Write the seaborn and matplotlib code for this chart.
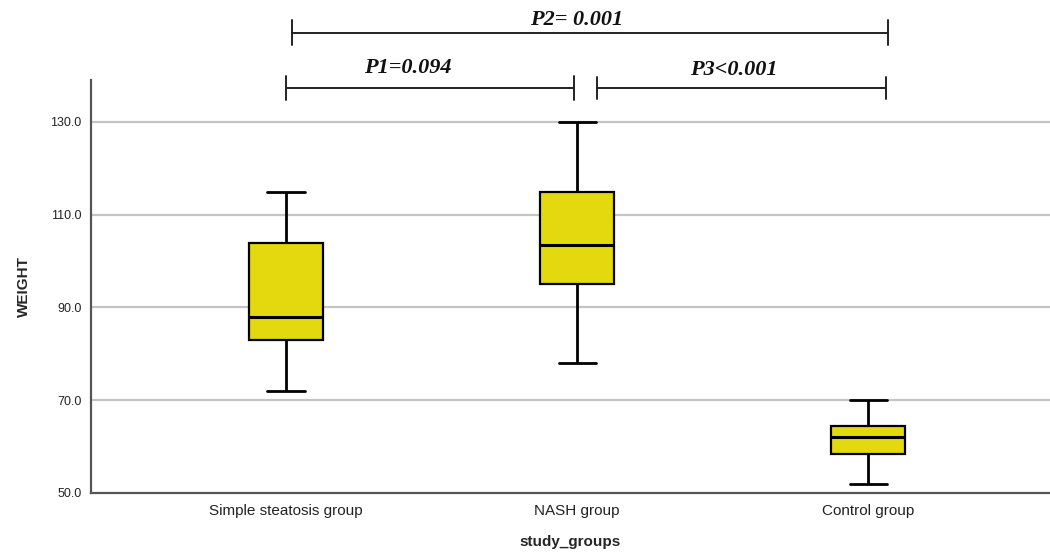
import numpy as np
import pandas as pd
import matplotlib
matplotlib.use('Agg')
import matplotlib.pyplot as plt
import seaborn as sns

# five-number summaries (min, Q1, median, Q3, max)
groups = ['Simple steatosis group', 'NASH group', 'Control group']
simple_weight = [72, 83, 88, 104, 115]
nash_weight = [78, 95, 103.5, 115, 130]
control_weight = [52, 58.5, 62, 64.5, 70]
y_ticks = [50, 70, 90, 110, 130]

# pairwise comparisons: (left group, right group, label)
comparisons = [
    (0, 1, 'P1=0.094'),
    (0, 2, 'P2= 0.001'),
    (1, 2, 'P3<0.001'),
]

df = pd.DataFrame({
    'study_groups': np.repeat(groups, 5),
    'WEIGHT': simple_weight + nash_weight + control_weight,
})

sns.set_style('white')
plt.rcParams['font.family'] = ['Liberation Sans', 'DejaVu Sans']

fig = plt.figure(figsize=(10.5, 5.53), dpi=100)
ax = fig.add_axes([0.0867, 0.1085, 0.9133, 0.7465])

for y in y_ticks[1:]:
    ax.axhline(y, color='#c4c4c4', lw=1.6, zorder=0)

sns.boxplot(data=df, x='study_groups', y='WEIGHT', order=groups, whis=(0, 100),
            width=0.255, color='#e4d80f', saturation=1, linewidth=1.6,
            linecolor='black', medianprops={'linewidth': 2.2},
            capprops={'linewidth': 2}, whiskerprops={'linewidth': 2},
            ax=ax)

ax.set_xlim(-0.67, 2.625)
ax.set_ylim(50, 139)
ax.set_yticks(y_ticks)
ax.set_yticklabels([f'{v:.1f}' for v in y_ticks], fontsize=9, color='#222222')
ax.tick_params(axis='x', labelsize=11, length=0, pad=8, colors='#222222')
ax.tick_params(axis='y', length=0, pad=7)
ax.set_xlabel('study_groups', fontsize=11, fontweight='bold', labelpad=12)
ax.set_ylabel('WEIGHT', fontsize=11, fontweight='bold', labelpad=14)

for side in ['top', 'right']:
    ax.spines[side].set_visible(False)
for side in ['left', 'bottom']:
    ax.spines[side].set_color('#555555')
    ax.spines[side].set_linewidth(1.6)

# significance brackets above the plot
bracket_style = dict(color='#222222', lw=1.4, clip_on=False)
levels = {(0, 1): (137.3, 2.5, 0.0, -0.01), (1, 2): (137.3, 2.4, 0.07, 0.06),
          (0, 2): (149.2, 2.7, 0.02, 0.07)}
text_y = {(0, 1): 141.6, (1, 2): 141.2, (0, 2): 151.9}
text_dx = {(0, 1): -0.08, (1, 2): 0.04, (0, 2): 0.0}
for a, b, label in comparisons:
    yb, h, da, db = levels[(a, b)]
    x0, x1 = a + da, b + db
    ax.plot([x0, x1], [yb, yb], **bracket_style)
    ax.plot([x0, x0], [yb - h, yb + h], **bracket_style)
    ax.plot([x1, x1], [yb - h, yb + h], **bracket_style)
    ax.text((a + b) / 2 + text_dx[(a, b)], text_y[(a, b)], label,
            ha='center', va='center', fontsize=16, fontweight='bold',
            fontstyle='italic', family=['Liberation Serif', 'DejaVu Serif'],
            color='#111111', clip_on=False)

fig.savefig('out.png', dpi=100)
